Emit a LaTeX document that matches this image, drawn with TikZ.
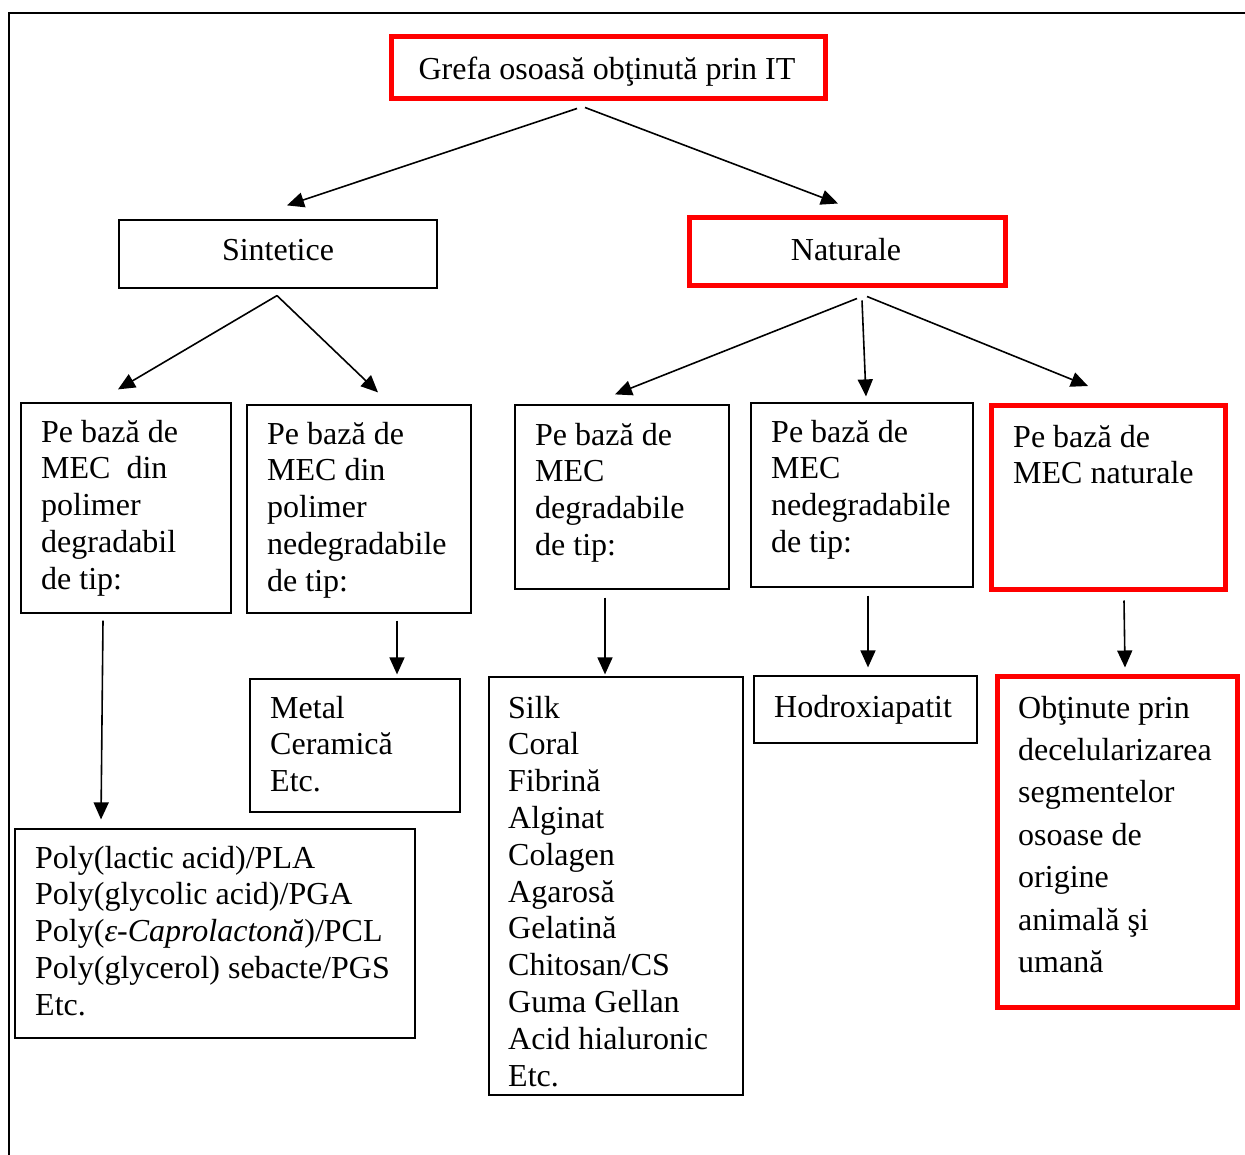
\documentclass[tikz,border=0pt]{standalone}
\usepackage{fontspec}
\setmainfont{Liberation Serif}
\usetikzlibrary{arrows.meta,calc}
\tikzset{
  bx/.style={draw=black, line width=1.2pt, rectangle, inner sep=0pt},
  rbx/.style={draw=red, line width=5pt, rectangle, inner sep=0pt},
  txt/.style={inner sep=0pt, align=left, anchor=base west, font=\fontsize{32}{36.8}\selectfont},
  ctxt/.style={inner sep=0pt, anchor=base, font=\fontsize{32}{36.8}\selectfont},
  arr/.style={line width=1.6pt, -{Triangle[length=17pt,width=15pt]}},
}
\begin{document}
\begin{tikzpicture}[x=1pt,y=-1pt]
\useasboundingbox (0,0) rectangle (1245,1155);
% outer frame
\coordinate (fa) at (9,1155);
\coordinate (fb) at (9,13);
\coordinate (fc) at (1245,13);
\draw[line width=2.5pt] (fa) -- (fb) -- (fc);

% boxes
\node[rbx, minimum width=434pt, minimum height=62pt] (top) at (608,68) {};
\node[bx,  minimum width=318pt, minimum height=68pt] (sin) at (278,254) {};
\node[rbx, minimum width=316pt, minimum height=68pt] (nat) at (847,252) {};
\node[bx,  minimum width=210pt, minimum height=210pt] (l1) at (126,508) {};
\node[bx,  minimum width=224pt, minimum height=208pt] (l2) at (359,509) {};
\node[bx,  minimum width=214pt, minimum height=184pt] (l3) at (622,497) {};
\node[bx,  minimum width=222pt, minimum height=184pt] (l4) at (862,495) {};
\node[rbx, minimum width=234pt, minimum height=184pt] (l5) at (1108,497.5) {};
\node[bx,  minimum width=210pt, minimum height=133pt] (metal) at (355,745.5) {};
\node[bx,  minimum width=254pt, minimum height=418pt] (silk) at (616,886) {};
\node[bx,  minimum width=223pt, minimum height=67pt] (hod) at (865.5,709.5) {};
\node[bx,  minimum width=400pt, minimum height=209pt] (pla) at (215,933.5) {};
\node[rbx, minimum width=240pt, minimum height=331pt] (obt) at (1117,841.5) {};

% texts (base anchor = baseline of the last line)
\node[ctxt] (topt) at (607,80) {Grefa osoasă obţinută prin IT};
\node[ctxt] (sint) at (278,261) {Sintetice};
\node[ctxt] (natt) at (846,261) {Naturale};
\node[txt] (l1t) at (41,589.2) {Pe bază de\\MEC\ \ din\\polimer\\degradabil\\de tip:};
\node[txt] (l2t) at (267,591.2) {Pe bază de\\MEC din\\polimer\\nedegradabile\\de tip:};
\node[txt] (l3t) at (535,555.4) {Pe bază de\\MEC\\degradabile\\de tip:};
\node[txt] (l4t) at (771,552.4) {Pe bază de\\MEC\\nedegradabile\\de tip:};
\node[txt] (l5t) at (1013,483.8) {Pe bază de\\MEC naturale};
\node[txt] (metalt) at (270,791.6) {Metal\\Ceramică\\Etc.};
\node[txt] (silkt) at (508,1086) {Silk\\Coral\\Fibrină\\Alginat\\Colagen\\Agarosă\\Gelatină\\Chitosan/CS\\Guma Gellan\\Acid hialuronic\\Etc.};
\node[txt] (hodt) at (774,717) {Hodroxiapatit};
\node[txt] (plat) at (35,1015.2) {Poly(lactic acid)/PLA\\Poly(glycolic acid)/PGA\\Poly(\textit{ε-Caprolactonă})/PCL\\Poly(glycerol) sebacte/PGS\\Etc.};
\node[txt, font=\fontsize{32}{42.4}\selectfont] (obtt) at (1018,972.4) {Obţinute prin\\decelularizarea\\segmentelor\\osoase de\\origine\\animală şi\\umană};

% connectors
\draw[arr] ($(top.south)+(-31,7)$) -- ($(sin.north)+(9,-14)$);
\draw[arr] ($(top.south)+(-23,6)$) -- ($(nat.north)+(-9,-12)$);
\draw[arr] ($(sin.south)+(-1,7)$) -- ($(l1.north)+(-8,-13)$);
\draw[arr] ($(sin.south)+(-1,7)$) -- ($(l2.north)+(19,-12)$);
\draw[arr] ($(nat.south)+(10,10)$) -- ($(l3.north)+(-7,-10)$);
\draw[arr] ($(nat.south)+(15,12)$) -- ($(l4.north)+(4,-6)$);
\draw[arr] ($(nat.south)+(20,8)$) -- ($(l5.north)+(-20,-17)$);
\draw[arr] ($(l1.south)+(-23,7)$) -- ($(pla.north)+(-114,-9)$);
\draw[arr] ($(l2.south)+(38,7)$) -- ($(metal.north)+(42,-4)$);
\draw[arr] ($(l3.south)+(-17,8)$) -- ($(silk.north)+(-11,-2)$);
\draw[arr] ($(l4.south)+(6,8)$) -- ($(hod.north)+(2.5,-8)$);
\draw[arr] ($(l5.south)+(16,8.5)$) -- ($(obt.north)+(8,-6)$);
\end{tikzpicture}
\end{document}
